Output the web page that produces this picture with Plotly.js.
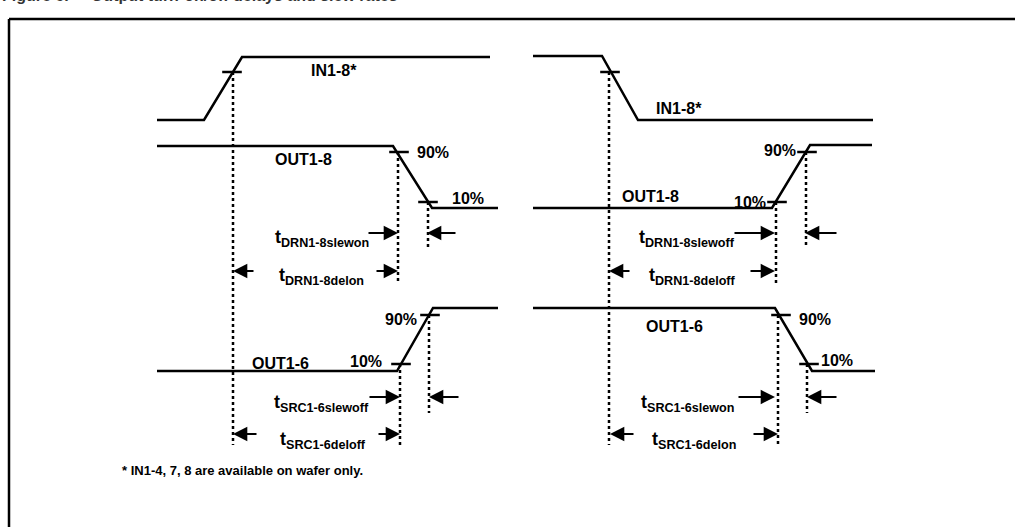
<!DOCTYPE html>
<html>
<head>
<meta charset="utf-8">
<script src="https://cdn.plot.ly/plotly-3.0.1.min.js"></script>
<style>html,body{margin:0;padding:0;background:#fff;}#chart{width:1015px;height:527px;}</style>
</head>
<body>
<div id="chart"></div>
<script>
// Waveforms (time units horizontally, level units vertically, same frame as diagram)
const inLeftX   = [157, 204, 242, 490];
const inLeftY   = [120, 120, 57, 57];
const out8LeftX = [157, 393, 432, 498];
const out8LeftY = [146, 146, 208, 208];
const out6LeftX = [157, 397, 433, 498];
const out6LeftY = [371, 371, 308, 308];
const inRightX   = [533, 602, 638, 873];
const inRightY   = [56, 56, 120, 120];
const out8RightX = [533, 772, 810, 872];
const out8RightY = [208, 208, 145, 145];
const out6RightX = [533, 775, 812, 875];
const out6RightY = [308, 308, 371, 371];

// Threshold crossing marks
const markX = [232, 399, 428, 401, 430, 610, 777, 807, 781, 809];
const markY = [72, 152, 202, 364, 315, 72, 202, 152, 315, 364];

// Dotted reference lines: x, start level, end level
const refX     = [233, 398, 428, 400, 429, 609, 776, 806, 778, 807];
const refStart = [72, 152, 202, 364, 315, 72, 202, 152, 315, 364];
const refEnd   = [445, 283, 247, 445, 413, 445, 285, 247, 445, 413];

// Timing arrows: tip x, tail x, row level
const arrowTip  = [398, 427, 233, 398, 400, 429, 233, 400, 775, 805, 609, 775, 775, 807, 610, 778];
const arrowTail = [367, 457, 255, 375, 368, 460, 258, 377, 733, 838, 631, 749, 737, 838, 635, 752];
const arrowRow  = [233, 233, 271, 271, 397, 397, 434, 434, 233, 233, 271, 271, 397, 397, 434, 434];

// Signal labels
const sigText = ['IN1-8*', 'OUT1-8', '90%', '10%', 'OUT1-6', '10%', '90%',
                 'IN1-8*', 'OUT1-8', '90%', '10%', 'OUT1-6', '90%', '10%'];
const sigX = [334, 303, 433, 468, 280, 366, 401, 679, 650, 780, 750, 674, 815, 837];
const sigY = [70, 159, 152, 198, 363, 361, 319, 108, 196, 150, 202, 326, 319, 360];

// Timing parameter labels
const parMain = ['t', 't', 't', 't', 't', 't', 't', 't'];
const parSub = ['DRN1-8slewon', 'DRN1-8delon', 'SRC1-6slewoff', 'SRC1-6deloff',
                'DRN1-8slewoff', 'DRN1-8deloff', 'SRC1-6slewon', 'SRC1-6delon'];
const parX = [273, 277, 272, 278, 637, 647, 639, 650];
const parY = [238, 276, 403, 440, 238, 276, 403, 440];

const footnote = '* IN1-4, 7, 8 are available on wafer only.';
const figTitle = 'Figure 6.     Output turn-on/off delays and slew rates';

const FONT = 'Liberation Sans, Arial, sans-serif';
const wave = (x, y) => ({x, y, type: 'scatter', mode: 'lines', line: {color: '#000', width: 2.5}, hoverinfo: 'skip'});

const traces = [
  wave(inLeftX, inLeftY), wave(out8LeftX, out8LeftY), wave(out6LeftX, out6LeftY),
  wave(inRightX, inRightY), wave(out8RightX, out8RightY), wave(out6RightX, out6RightY)
];

// dotted verticals as one trace with gaps
const dx = [], dy = [];
refX.forEach((x, i) => { dx.push(x, x, null); dy.push(refStart[i], refEnd[i], null); });
traces.push({x: dx, y: dy, type: 'scatter', mode: 'lines', line: {color: '#000', width: 2.5, dash: 'dot'}, hoverinfo: 'skip'});

traces.push({x: markX, y: markY, type: 'scatter', mode: 'markers',
  marker: {symbol: 'line-ew', size: 14, line: {color: '#000', width: 2.5}}, hoverinfo: 'skip'});

const annotations = [];
arrowTip.forEach((x, i) => {
  annotations.push({x, y: arrowRow[i], ax: arrowTail[i], ay: arrowRow[i], axref: 'x', ayref: 'y',
    xref: 'x', yref: 'y', text: '', showarrow: true, arrowhead: 2, arrowsize: 1.3, arrowwidth: 2.2,
    arrowcolor: '#000', standoff: 0, startstandoff: 0});
});
sigText.forEach((t, i) => {
  annotations.push({x: sigX[i], y: sigY[i], xref: 'x', yref: 'y', text: '<b>' + t + '</b>', showarrow: false,
    font: {family: FONT, size: 16, color: '#000'}, xanchor: 'center', yanchor: 'middle'});
});
parSub.forEach((s, i) => {
  annotations.push({x: parX[i], y: parY[i], xref: 'x', yref: 'y',
    text: '<b>' + parMain[i] + '<sub>' + s + '</sub></b>', showarrow: false,
    font: {family: FONT, size: 18, color: '#000'}, xanchor: 'left', yanchor: 'middle'});
});
annotations.push({x: 120, y: 470, xref: 'x', yref: 'y', text: '<b>' + footnote + '</b>', showarrow: false,
  font: {family: FONT, size: 13, color: '#000'}, xanchor: 'left', yanchor: 'middle'});
annotations.push({x: 0, y: 6, xref: 'x', yref: 'y', text: '<b>' + figTitle + '</b>', showarrow: false,
  font: {family: FONT, size: 16, color: '#333'}, xanchor: 'left', yanchor: 'bottom'});

const layout = {
  width: 1015, height: 527, margin: {l: 0, r: 0, t: 0, b: 0},
  paper_bgcolor: '#fff', plot_bgcolor: '#fff', showlegend: false,
  xaxis: {range: [0, 1015], visible: false, fixedrange: true},
  yaxis: {range: [527, 0], visible: false, fixedrange: true},
  shapes: [
    {type: 'line', xref: 'x', yref: 'y', x0: 9, x1: 1015, y0: 19, y1: 19, line: {color: '#000', width: 2.5}},
    {type: 'line', xref: 'x', yref: 'y', x0: 9, x1: 9, y0: 19, y1: 527, line: {color: '#000', width: 2.5}}
  ],
  annotations
};

Plotly.newPlot('chart', traces, layout, {staticPlot: true, displayModeBar: false});
</script>
</body>
</html>
